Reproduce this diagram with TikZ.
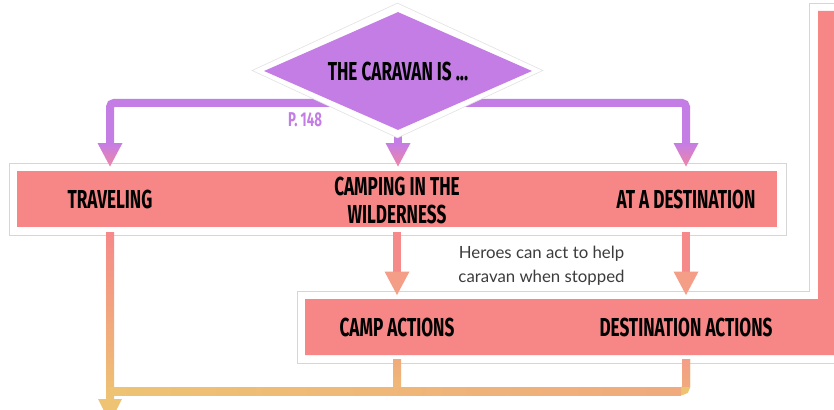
\documentclass[tikz,border=0pt]{standalone}
\usepackage{fontspec}
\usetikzlibrary{shapes.geometric,calc}
\newfontfamily\bebas[FakeStretch=0.66]{Fira Sans}
\newfontfamily\latofont{Lato}
\definecolor{cpurple}{RGB}{197,125,230}
\definecolor{cpink}{RGB}{247,135,135}
\definecolor{cpinkline}{RGB}{246,137,137}
\definecolor{csalmon}{RGB}{244,158,136}
\definecolor{cyellow}{RGB}{238,195,115}
\definecolor{corange}{RGB}{240,170,125}
\definecolor{cframe}{RGB}{214,214,214}
\definecolor{cheadpink}{RGB}{238,134,166}
\definecolor{cnote}{RGB}{60,60,60}
\pgfdeclarelayer{back}
\pgfdeclarelayer{lines}
\pgfsetlayers{back,lines,main}
\newcommand\myhead[4]{%
  \shade[top color=#2,bottom color=#3] ($(#1)+(-#4,0)$) -- ($(#1)+(#4,0)$) -- ($(#1)+(0,23.5)$) -- cycle;}
\begin{document}
\begin{tikzpicture}[x=1pt,y=-1pt,
  title/.style={font=\bebas\bfseries\fontsize{26}{28}\selectfont, text=black, inner sep=0pt, align=center},
  ptext/.style={font=\bebas\bfseries\fontsize{20}{22}\selectfont, text=cpurple, inner sep=0pt},
  note/.style={font=\latofont\fontsize{16.8}{24}\selectfont, text=cnote, inner sep=0pt, align=center},
  frame/.style={draw=cframe, line width=0.8pt, fill=white},
  pinkbox/.style={fill=cpink, draw=none, inner sep=0pt},
  pline/.style={draw=cpurple, line width=8pt, rounded corners=4pt},
  rline/.style={draw=cpinkline, line width=8pt},
  yline/.style={draw=cyellow, line width=8pt, rounded corners=4pt},
]
\useasboundingbox (0,0) rectangle (834,409);

% ---------- coordinates for connectors ----------
\coordinate (hub) at (398,103);
\coordinate (hA) at (110,143);
\coordinate (hB) at (398,143);
\coordinate (hC) at (686,143);
\coordinate (sA) at (110,232);
\coordinate (sB) at (397,232);
\coordinate (sC) at (686,232);
\coordinate (hB2) at (397,271.5);
\coordinate (hC2) at (686,271.5);
\coordinate (uB) at (397,359);
\coordinate (uC) at (686,359);
\coordinate (jA) at (110,391);
\coordinate (jB) at (397,391);
\coordinate (jC) at (686,391);
\coordinate (hA2) at (110,399);

% ---------- frames and boxes ----------
\begin{pgfonlayer}{back}
  \fill[white] (0,0) rectangle (834,409);
  \node[frame, minimum width=777pt, minimum height=72pt, inner sep=0pt] (row1frame) at (397.5,199) {};
  \node[pinkbox, minimum width=760pt, minimum height=56pt] (row1) at (397,199) {};
  \draw[frame] (809,3) -- (850,3) -- (850,363) -- (297,363) -- (297,291) -- (809,291) -- cycle;
  \fill[cpink] (818,11) -- (850,11) -- (850,355) -- (305,355) -- (305,299) -- (818,299) -- cycle;
\end{pgfonlayer}

% ---------- connectors ----------
\begin{pgfonlayer}{lines}
  % purple decision connectors
  \draw[pline] (hub) -| (hA);
  \draw[pline] (hub) -| (hC);
  \draw[pline] (hub) -- (hB);
  \myhead{hA}{cpurple}{cheadpink}{12.5}
  \myhead{hB}{cpurple}{cheadpink}{12.5}
  \myhead{hC}{cpurple}{cheadpink}{12.5}
  % row 1 to row 2
  \draw[rline] (sB) -- (hB2);
  \draw[rline] (sC) -- (hC2);
  \myhead{hB2}{csalmon}{csalmon}{12.5}
  \myhead{hC2}{csalmon}{csalmon}{12.5}
  % traveling line and merge
  \draw[yline] (sA) -- (hA2);
  \shade[top color=cpinkline, bottom color=cyellow] ($(sA)+(-4,0)$) rectangle ($(hA2)+(4,0)$);
  \draw[yline] (uC) |- (jA);
  \draw[yline] (uB) -- (jB);
  \shade[top color=csalmon, bottom color=corange] ($(uC)+(-4,0)$) rectangle ($(jC)+(4,-5)$);
  \shade[top color=corange, bottom color=cyellow!60!corange] ($(uB)+(-4,0)$) rectangle ($(jB)+(4,-4)$);
  \shade[left color=cyellow, right color=corange] ($(jA)+(4,-4)$) rectangle ($(jC)+(-5,4)$);
  \myhead{hA2}{cyellow}{cyellow}{12}
\end{pgfonlayer}

% ---------- decision diamond ----------
\node[diamond, minimum width=291pt, minimum height=135pt, inner sep=0pt, fill=white, draw=cframe!70, line width=0.6pt] (caravanouter) at (397.5,70.5) {};
\node[diamond, minimum width=268pt, minimum height=118pt, inner sep=0pt, fill=cpurple] (caravan) at (398,71) {};
\node[title] (caravantxt) at (398,71) {THE CARAVAN IS ...};
\node[ptext] (page) at (305,120) {P. 148};

% ---------- texts ----------
\node[title] (travel) at (110,199) {TRAVELING};
\node[title] (camping) at (397,200) {CAMPING IN THE\\WILDERNESS};
\node[title] (dest) at (686,199) {AT A DESTINATION};
\node[title] (campact) at (397,327) {CAMP ACTIONS};
\node[title] (destact) at (686,327) {DESTINATION ACTIONS};
\node[note] (note) at (541.5,266) {Heroes can act to help\\caravan when stopped};
\end{tikzpicture}
\end{document}
